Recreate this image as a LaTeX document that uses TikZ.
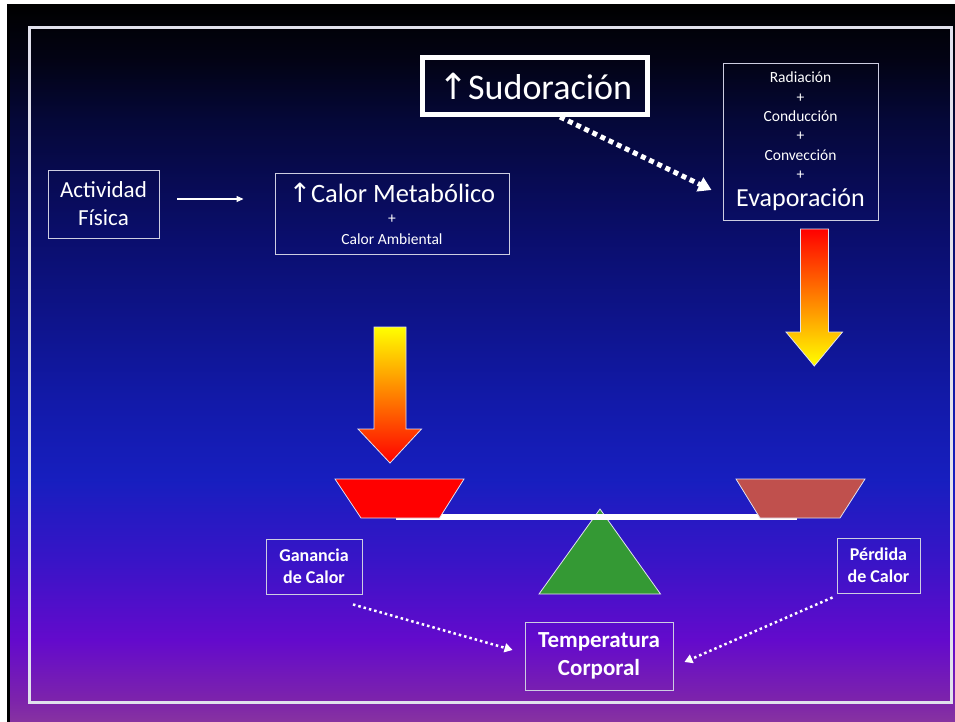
\documentclass[tikz,border=0pt]{standalone}
\usepackage{fontspec}
\setmainfont{Carlito}
\newfontfamily\arrowfont{DejaVu Sans}
\usetikzlibrary{arrows.meta,calc,shadings}
\pgfdeclareverticalshading{slidebg}{100bp}{rgb(0bp)=(0.53,0.20,0.63); rgb(25bp)=(0.53,0.20,0.63); rgb(26.5bp)=(0.49,0.14,0.67); rgb(30.7bp)=(0.39,0.04,0.80); rgb(36.3bp)=(0.22,0.08,0.78); rgb(41.9bp)=(0.09,0.12,0.75); rgb(47.5bp)=(0.07,0.10,0.66); rgb(58.6bp)=(0.04,0.055,0.43); rgb(67bp)=(0.02,0.03,0.22); rgb(71.2bp)=(0.01,0.012,0.08); rgb(75bp)=(0,0,0); rgb(100bp)=(0,0,0)}
\definecolor{boxline}{RGB}{205,205,225}
\definecolor{panline}{RGB}{225,225,240}
\definecolor{panred}{RGB}{255,0,0}
\definecolor{panbrown}{RGB}{192,80,77}
\definecolor{fulcrum}{RGB}{52,153,52}
\definecolor{warm}{RGB}{255,190,0}
\newcommand{\fsz}[2]{\fontsize{#1}{#2}\selectfont}
\newcommand{\up}{{\arrowfont\char"2191}}
\tikzset{
    box/.style={draw=boxline, line width=0.9pt, text=white, align=center, inner sep=0pt},
    bigbox/.style={draw=white, line width=5pt, text=white, inner sep=0pt},
    flow/.style={white, line width=1pt, -{Triangle[length=7pt,width=6pt]}},
    bigdots/.style={white, line width=5pt, dash pattern=on 5pt off 4pt, -{Triangle[length=13pt,width=15pt]}},
    smalldots/.style={white, line width=2.5pt, dash pattern=on 2.5pt off 3pt, -{Triangle[length=8pt,width=9pt]}},
    pan/.style={draw=panline, line width=0.8pt},
    block/.style={draw=panline, line width=0.8pt}
}

\begin{document}
\begin{tikzpicture}[x=1pt,y=-1pt]
\useasboundingbox (0,0) rectangle (955,722);
\fill[white] (0,0) rectangle (955,722);
\shade[shading=slidebg] (7,5) rectangle (955,722);
\draw[black, line width=3pt] (8.5,5) -- (8.5,722);
\draw[boxline!60!white, line width=2.2pt] (29.5,27.5) rectangle (951.5,702.5);

% boxes
\node[box, minimum width=111, minimum height=68, font=\fsz{23}{28}] (act) at (103.5,204) {Actividad\\Física};
\node[box, minimum width=234, minimum height=81, font=\fsz{15.5}{21}] (cal) at (392,213.5)
    {{\fsz{26.5}{30}\up Calor Metabólico}\\+\\Calor Ambiental};
\node[bigbox, minimum width=225, minimum height=57, font=\fsz{36}{40}] (sud) at (535,86) {\up Sudoración};
\node[box, minimum width=155, minimum height=157, font=\fsz{15.5}{19.3}] (evap) at (800.5,141.5)
    {Radiación\\+\\Conducción\\+\\Convección\\+\\[8pt]{\fsz{26}{30}Evaporación}};
\node[box, minimum width=96, minimum height=55, font=\fsz{18}{22}\bfseries] (gan) at (314,566.5) {Ganancia\\de Calor};
\node[box, minimum width=83, minimum height=55, font=\fsz{18}{22}\bfseries] (per) at (878.5,565.5) {Pérdida\\de Calor};
\node[box, minimum width=148, minimum height=68, font=\fsz{23}{28}\bfseries] (temp) at (599,656) {Temperatura\\Corporal};

% flow arrows
\draw[flow, shorten <=18pt, shorten >=31pt] ([yshift=5pt]act.east) -- ([yshift=5pt]act.east -| cal.west);
\draw[bigdots] ([xshift=25pt]sud.south) -- ([xshift=-11pt,yshift=-48.5pt]evap.west);
\draw[smalldots] ([xshift=39pt,yshift=-10pt]gan.south) -- ([xshift=-12pt,yshift=6pt]temp.west);
\draw[smalldots] ([xshift=-4pt,yshift=-4pt]per.south west) -- ([xshift=11pt,yshift=-6pt]temp.east);

% heat arrows
\shade[block, top color=yellow, middle color=warm, bottom color=red]
    (374,327) -- (406,327) -- (406,429) -- (421.5,429) -- (390,463) -- (358,429) -- (374,429) -- cycle;
\shade[block, top color=red, middle color=warm, bottom color=yellow]
    (800.5,229) -- (828.5,229) -- (828.5,332) -- (842.5,332) -- (814.3,366) -- (786,332) -- (800.5,332) -- cycle;

% balance
\fill[fulcrum, pan] (600,509) -- (660.5,594) -- (539,594) -- cycle;
\fill[white] (396,514) rectangle (797,519.5);
\fill[panred, pan] (335,479) -- (464,479) -- (439.5,518) -- (361,518) -- cycle;
\fill[panbrown, pan] (736,479) -- (865,479) -- (840,518) -- (760,518) -- cycle;
\end{tikzpicture}
\end{document}
